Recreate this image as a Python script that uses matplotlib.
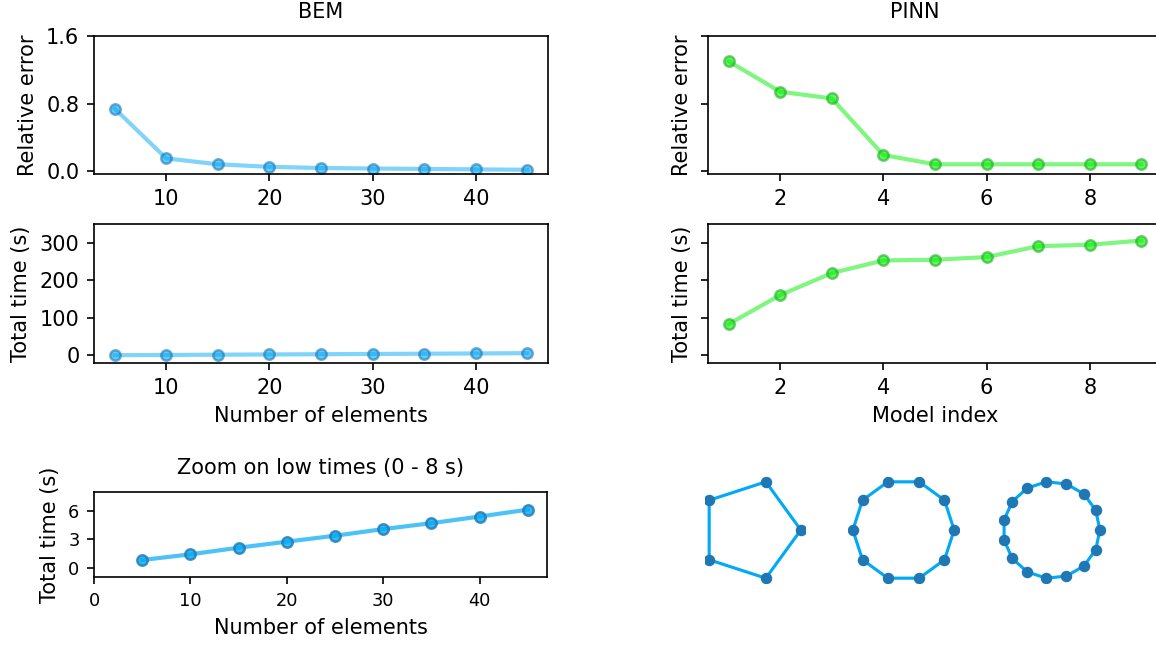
import numpy as np
import matplotlib
matplotlib.use("Agg")
import matplotlib.pyplot as plt

# values
bem_elements = [5, 10, 15, 20, 25, 30, 35, 40, 45]
bem_error = [0.74, 0.15, 0.08, 0.05, 0.036, 0.03, 0.025, 0.02, 0.015]
bem_time = [0.8, 1.4, 2.1, 2.74, 3.37, 4.07, 4.7, 5.4, 6.13]

pinn_index = [1, 2, 3, 4, 5, 6, 7, 8, 9]
pinn_error = [1.30, 0.94, 0.86, 0.19, 0.08, 0.08, 0.08, 0.08, 0.08]
pinn_time = [83.6, 160.8, 219.4, 253.0, 254.8, 262.0, 291.0, 294.7, 306.0]

polygon_sizes = [5, 10, 15]

BLUE = "#03A9F4"
GREEN = "#00ee00"

W, H = 1156, 647
fig = plt.figure(figsize=(W / 150, H / 150), dpi=150)


def box(x0, y0, x1, y1):
    # pixel box -> figure fraction rect
    return [x0 / W, 1 - y1 / H, (x1 - x0) / W, (y1 - y0) / H]


def series(ax, x, y, col, edge):
    ax.plot(x, y, "-", color=col, alpha=0.5, lw=2)
    ax.plot(x, y, "o", mfc=col, mec=edge, mew=1.2, ms=5, alpha=0.6)


ax_be = fig.add_axes(box(94, 36, 548, 174))
ax_bt = fig.add_axes(box(94, 224, 548, 363))
ax_pe = fig.add_axes(box(708, 36, 1162, 174), sharey=ax_be)
ax_pt = fig.add_axes(box(708, 224, 1162, 363), sharey=ax_bt)
ax_z = fig.add_axes(box(94, 492, 547, 577))

series(ax_be, bem_elements, bem_error, BLUE, "#1f77b4")
ax_be.set_ylim(-0.035, 1.6)
ax_be.set_yticks([0, 0.8, 1.6])
ax_be.set_ylabel("Relative error")
ax_be.set_title("BEM", fontsize=10, pad=8.5)

series(ax_bt, bem_elements, bem_time, BLUE, "#1f77b4")
ax_bt.set_ylim(-20, 350)
ax_bt.set_yticks([0, 100, 200, 300])
ax_bt.set_ylabel("Total time (s)")
ax_bt.set_xlabel("Number of elements")

series(ax_pe, pinn_index, pinn_error, GREEN, "#22aa22")
ax_pe.set_ylabel("Relative error")
ax_pe.set_title("PINN", fontsize=10, x=0.455, pad=8.5)
ax_pe.tick_params(labelleft=False)
ax_pe.set_xticks([2, 4, 6, 8])

series(ax_pt, pinn_index, pinn_time, GREEN, "#22aa22")
ax_pt.set_ylabel("Total time (s)")
ax_pt.set_xlabel("Model index")
ax_pt.tick_params(labelleft=False)
ax_pt.set_xticks([2, 4, 6, 8])

ax_z.plot(bem_elements, bem_time, "-", color=BLUE, alpha=0.7, lw=2)
ax_z.plot(bem_elements, bem_time, "o", mfc=BLUE, mec="#1f77b4", mew=1.2, ms=5, alpha=0.8)
ax_z.set_xlim(0, 47)
ax_z.set_ylim(-1, 8)
ax_z.set_yticks([0, 3, 6])
ax_z.set_xticks([0, 10, 20, 30, 40])
ax_z.tick_params(labelsize=8.5)
ax_z.set_title("Zoom on low times (0 - 8 s)", fontsize=10, pad=8.5)
ax_z.set_ylabel("Total time (s)")
ax_z.set_xlabel("Number of elements")

# boundary discretisations
centers = [755, 903.5, 1052]
for n, cx in zip(polygon_sizes, centers):
    ax = fig.add_axes(box(cx - 70, 477, cx + 70, 583))
    t = 2 * np.pi * np.arange(n + 1) / n
    px, py = np.cos(t), np.sin(t)
    ax.plot(px, py, "-", color=BLUE, lw=1.5)
    ax.plot(px[:-1], py[:-1], "o", color="#1f77b4", ms=4.5)
    ax.set_aspect("equal")
    ax.axis("off")

fig.savefig("out.png", dpi=150)
